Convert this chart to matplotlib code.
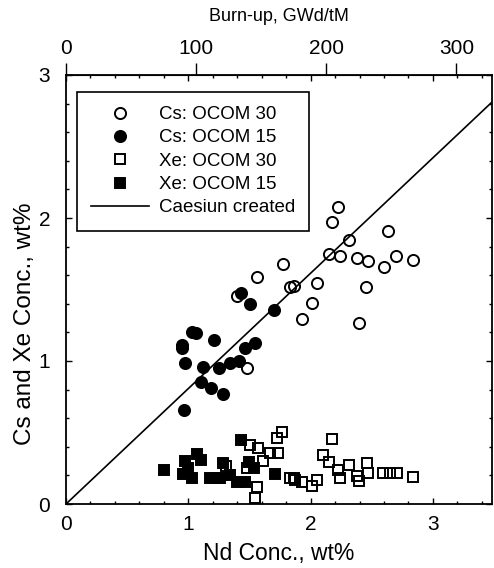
import matplotlib
matplotlib.use("Agg")
import matplotlib.pyplot as plt
from matplotlib.ticker import MultipleLocator, FixedLocator

# ---- data (Nd conc. wt%, Cs/Xe conc. wt%) ----
cs30_nd = [1.559, 1.396, 1.482, 2.224, 2.172, 2.635, 2.314, 2.150, 2.240, 2.377, 2.472,
           2.603, 2.698, 2.835, 1.777, 1.832, 1.864, 2.050, 2.453, 2.014, 1.927, 2.396]
cs30_c = [1.585, 1.455, 0.949, 2.079, 1.970, 1.911, 1.846, 1.746, 1.736, 1.718, 1.701,
          1.655, 1.734, 1.706, 1.676, 1.515, 1.524, 1.543, 1.515, 1.403, 1.294, 1.266]

cs15_nd = [1.428, 1.502, 1.703, 1.033, 1.060, 1.213, 0.946, 0.946, 1.545, 1.464,
           0.973, 1.123, 1.253, 1.341, 1.415, 1.104, 1.186, 1.281, 0.962]
cs15_c = [1.478, 1.397, 1.357, 1.205, 1.194, 1.149, 1.112, 1.089, 1.128, 1.089,
          0.988, 0.960, 0.949, 0.988, 1.000, 0.855, 0.809, 0.769, 0.657]

xe30_nd = [1.763, 1.723, 1.504, 1.567, 1.668, 1.736, 1.614, 1.477, 1.308, 1.559, 1.545,
           1.832, 1.867, 1.872, 1.927, 2.014, 2.050, 2.172, 2.104, 2.153, 2.227, 2.240,
           2.316, 2.377, 2.396, 2.459, 2.472, 2.594, 2.649, 2.704, 2.840]
xe30_c = [0.506, 0.464, 0.413, 0.394, 0.355, 0.355, 0.303, 0.254, 0.268, 0.121, 0.044,
          0.184, 0.184, 0.168, 0.156, 0.126, 0.168, 0.455, 0.343, 0.296, 0.238, 0.184,
          0.273, 0.196, 0.163, 0.285, 0.215, 0.215, 0.215, 0.215, 0.191]

xe15_nd = [0.801, 0.973, 1.000, 0.959, 1.033, 1.069, 1.104, 1.177, 1.224, 1.259,
           1.281, 1.341, 1.401, 1.464, 1.428, 1.499, 1.537, 1.709]
xe15_c = [0.238, 0.301, 0.250, 0.208, 0.180, 0.348, 0.308, 0.180, 0.180, 0.180,
          0.285, 0.203, 0.156, 0.156, 0.448, 0.296, 0.254, 0.208]

line_nd = [0.0, 3.6]
line_c = [0.0, 2.905]

burnup_per_nd = 94.0          # GWd/tM per wt% Nd (top axis scale)
burnup_ticks = [0, 100, 200, 300]
nd_ticks = [0, 1, 2, 3]
c_ticks = [0, 1, 2, 3]

labels = ["Cs: OCOM 30", "Cs: OCOM 15", "Xe: OCOM 30", "Xe: OCOM 15", "Caesiun created"]

plt.rcParams["font.family"] = ["Liberation Sans", "DejaVu Sans"]

fig = plt.figure(figsize=(4.94, 5.68), dpi=100)
ax = fig.add_axes([66 / 494, 64 / 568, 426 / 494, 429 / 568])

ms = 8.0
ew = 1.4
h1, = ax.plot(cs30_nd, cs30_c, 'o', ms=ms, mfc='none', mec='black', mew=ew, zorder=3)
h3, = ax.plot(xe30_nd, xe30_c, 's', ms=ms - 0.5, mfc='none', mec='black', mew=ew, zorder=3)
h2, = ax.plot(cs15_nd, cs15_c, 'o', ms=ms, mfc='black', mec='black', mew=ew, zorder=4)
h4, = ax.plot(xe15_nd, xe15_c, 's', ms=ms - 0.5, mfc='black', mec='black', mew=ew, zorder=4)
h5, = ax.plot(line_nd, line_c, '-', color='black', lw=1.2, zorder=2)

ax.set_xlim(0, 426 / 122.3)
ax.set_ylim(0, 3)

ax.xaxis.set_major_locator(FixedLocator(nd_ticks))
ax.xaxis.set_minor_locator(MultipleLocator(0.2))
ax.yaxis.set_major_locator(FixedLocator(c_ticks))
ax.yaxis.set_minor_locator(MultipleLocator(0.2))
ax.tick_params(which='both', direction='in', top=True, right=True, width=1.0,
               labelsize=15, colors='black')
ax.tick_params(which='major', length=4)
ax.tick_params(which='minor', length=2.5)
ax.tick_params(axis='x', pad=8)
ax.tick_params(axis='y', pad=11.5)
for s in ax.spines.values():
    s.set_linewidth(1.3)

ax.set_xlabel("Nd Conc., wt%", fontsize=16.5, labelpad=6)
ax.set_ylabel("Cs and Xe Conc., wt%", fontsize=17.5)
ax.yaxis.set_label_coords(-30 / 426, 0.42)

sec = ax.secondary_xaxis('top', functions=(lambda x: x * burnup_per_nd,
                                           lambda b: b / burnup_per_nd))
sec.xaxis.set_major_locator(FixedLocator(burnup_ticks))
sec.tick_params(direction='out', length=9, width=1.0, labelsize=15, pad=3)
sec.set_xlabel("Burn-up, GWd/tM", fontsize=13, labelpad=13)

leg = ax.legend([h1, h2, h3, h4, h5], labels, loc='upper left',
                bbox_to_anchor=(11 / 426, 412 / 429), borderaxespad=0,
                fontsize=13.5, frameon=True, fancybox=False, framealpha=1,
                edgecolor='black', handlelength=3.1, handletextpad=0.5,
                labelspacing=0.33, borderpad=0.75)
leg.get_frame().set_linewidth(1.2)

fig.savefig("out.png", dpi=100)
